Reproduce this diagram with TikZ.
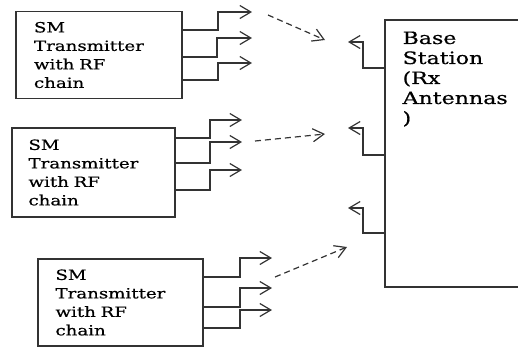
\documentclass[tikz,border=0pt]{standalone}
\usepackage{fontspec}
\setmainfont{DejaVu Serif}[FakeStretch=1.3,FakeBold=0.6]
\usetikzlibrary{arrows.meta}

\begin{document}
\begin{tikzpicture}[x=1pt,y=-1pt,
  ant/.style={draw=black!80,line width=1.2pt,-{Straight Barb[length=11pt,width=13pt]}},
  link/.style={ant,dash pattern=on 6pt off 4pt},
  txbox/.style={draw=black!80,line width=1.2pt,minimum width=166,minimum height=87,
    text width=130,align=left,inner xsep=0,inner ysep=0,
    font=\fontsize{14}{18.5}\selectfont},
  bsbox/.style={draw=black!80,line width=1.2pt,minimum width=250,minimum height=267,inner sep=0}]
\useasboundingbox (0,0) rectangle (518,349);
% transmitters
\node[txbox] (tx1) at (99,55) {SM\\Transmitter\\with RF\\chain};
\node[txbox,minimum width=163,minimum height=89] (tx2) at (93.5,172.5) {SM\\Transmitter\\with RF\\chain};
\node[txbox,minimum width=165] (tx3) at (120.5,302.5) {SM\\Transmitter\\with RF\\chain};
% base station
\node[bsbox] (bs) at (510,153.5) {};
\node[anchor=north west,align=left,inner sep=0,font=\fontsize{17}{20}\selectfont] (bslabel)
  at ([xshift=18,yshift=-12]bs.north west) {Base\\Station\\(Rx\\Antennas\\)};
% tx antennas
\foreach \t/\k/\ey/\bx/\ty/\tip in {tx1/1/30/218/12/252, tx1/2/57/217/38/252, tx1/3/80/218/63/252,
  tx2/1/138/210/120/242, tx2/2/163/210/142/242, tx2/3/190/210/170/242,
  tx3/1/277/240/258/272, tx3/2/307/240/288/272, tx3/3/328/240/310/272}
{
  \coordinate (\t-a\k) at (\tip,\ty);
  \draw[ant] (\t.east |- 0,\ey) -| (\bx,\ty) -- (\t-a\k);
}
% rx antennas
\foreach \k/\ey/\ty in {1/68/42, 2/155/128, 3/233/208}
{
  \coordinate (bs-a\k) at (348,\ty);
  \draw[ant] (bs.west |- 0,\ey) -| (363,\ty) -- (bs-a\k);
}
% links
\coordinate (d1s) at (268,15);
\coordinate (d1e) at (325,40);
\coordinate (d2s) at (255,141);
\coordinate (d2e) at (325,134);
\coordinate (d3s) at (275,277);
\coordinate (d3e) at (347,247);
\draw[link] (d1s) -- (d1e);
\draw[link] (d2s) -- (d2e);
\draw[link] (d3s) -- (d3e);
\end{tikzpicture}
\end{document}
